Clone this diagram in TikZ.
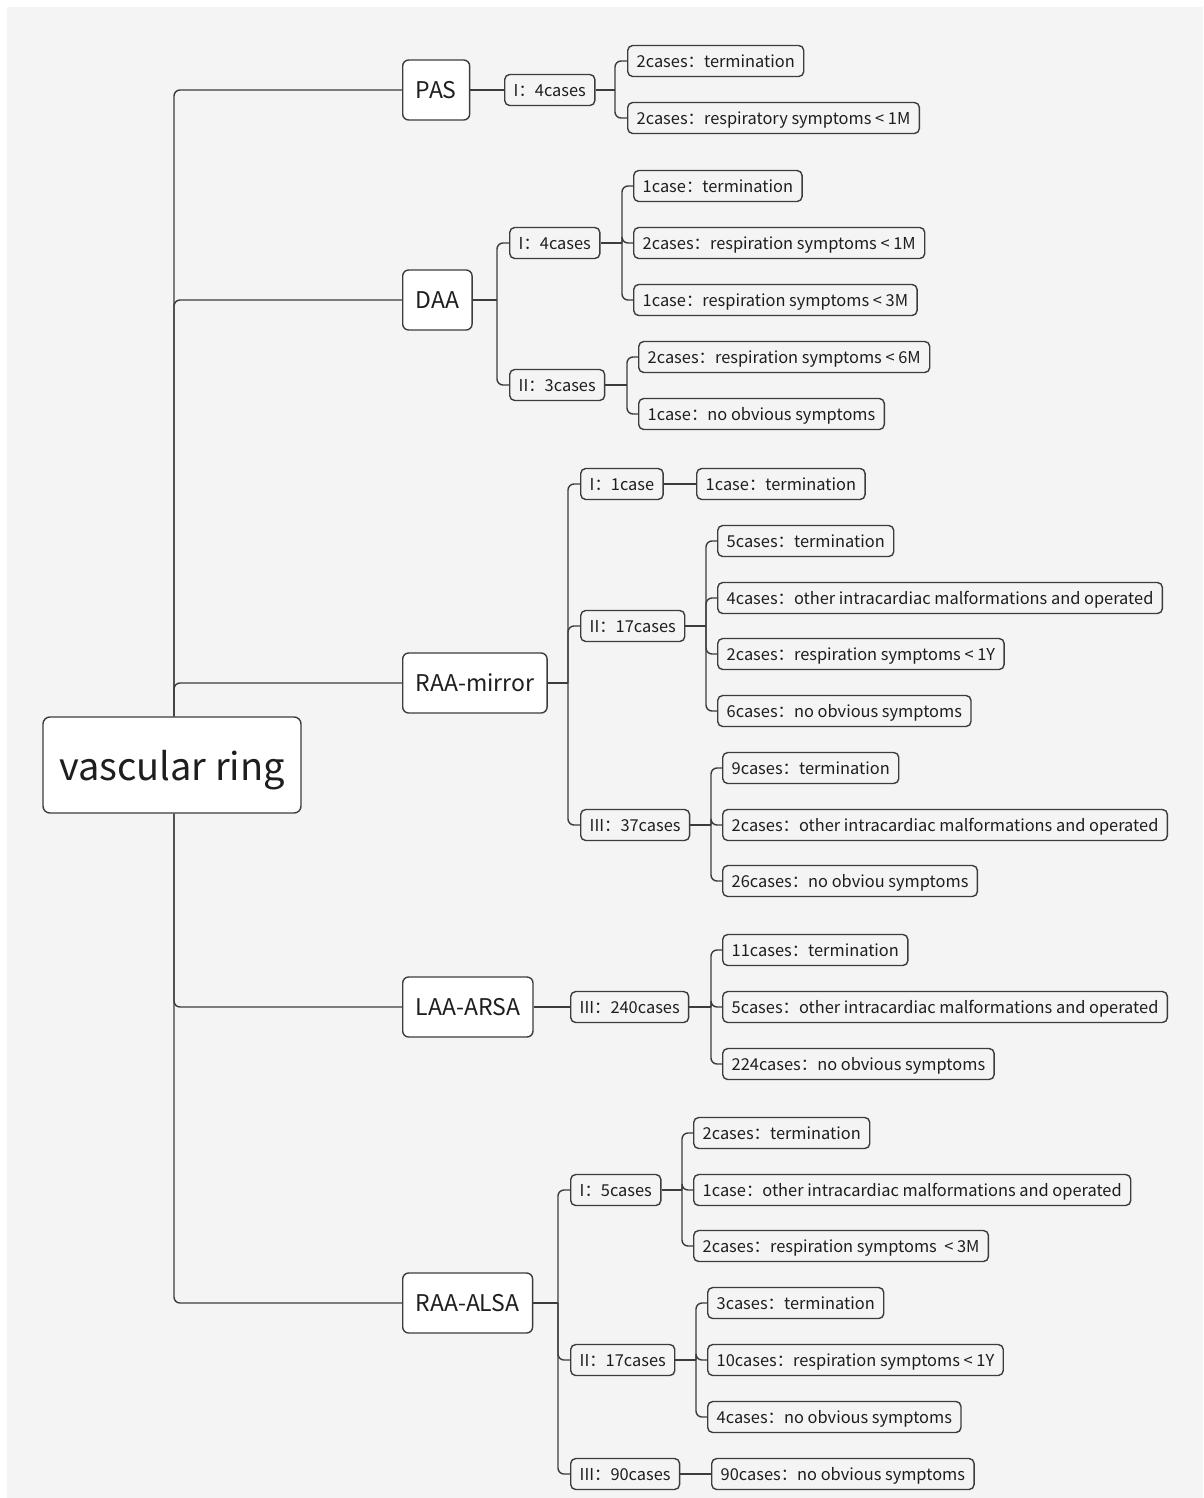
\documentclass[tikz,border=0pt]{standalone}
\usepackage{fontspec}
\setmainfont{Noto Sans CJK SC}
\definecolor{bgcol}{HTML}{F4F4F4}
\definecolor{linec}{HTML}{3C3C3C}
\definecolor{txtc}{HTML}{1E1E1E}
\begin{document}
\begin{tikzpicture}[x=1pt,y=-1pt,
  base/.style={draw=linec, line width=1.4pt, rounded corners=5pt, text=txtc, anchor=west, inner ysep=0pt},
  lvthree/.style={base, font=\fontsize{16.4}{20}\selectfont, inner xsep=9pt, minimum height=31pt, text height=12.5pt, text depth=0pt},
  lvtwo/.style={base, font=\fontsize{16.4}{20}\selectfont, inner xsep=9pt, minimum height=31pt, text height=12.5pt, text depth=0pt},
  lvone/.style={base, fill=white, font=\fontsize{23}{27}\selectfont, inner xsep=13pt, minimum height=60pt, rounded corners=6pt, text height=17.5pt, text depth=0pt},
  rootbox/.style={draw=linec, line width=1.4pt, fill=white, rounded corners=7pt, text=txtc, font=\fontsize{38}{44}\selectfont, minimum width=258pt, minimum height=96pt, text height=31pt, text depth=0pt},
  conn/.style={draw=linec, line width=1.4pt},
  rconn/.style={conn, rounded corners=6pt}
]
\useasboundingbox (0,0) rectangle (1203,1498);
\fill[white] (0,0) rectangle (1203,1498);
\fill[bgcol] (7,7) rectangle (1203,1498);

% root
\node[rootbox] (root) at (172,765) {vascular ring};

% level 1
\node[lvone] (pas) at (402,90) {PAS};
\node[lvone] (daa) at (402,300) {DAA};
\node[lvone] (raam) at (402,683) {RAA-mirror};
\node[lvone] (laa) at (402,1007) {LAA-ARSA};
\node[lvone] (raal) at (402,1303) {RAA-ALSA};

% level 2
\node[lvtwo] (pasI) at (504,90) {I：4cases};
\node[lvtwo] (daaI) at (509,243) {I：4cases};
\node[lvtwo] (daaII) at (509,385) {II：3cases};
\node[lvtwo] (rmI) at (580,484) {I：1case};
\node[lvtwo] (rmII) at (580,626) {II：17cases};
\node[lvtwo] (rmIII) at (580,825) {III：37cases};
\node[lvtwo] (laIII) at (570,1007) {III：240cases};
\node[lvtwo] (raI) at (570,1190) {I：5cases};
\node[lvtwo] (raII) at (570,1360) {II：17cases};
\node[lvtwo] (raIII) at (570,1474) {III：90cases};

% level 3
\node[lvthree] (p1) at (627,61) {2cases：termination};
\node[lvthree] (p2) at (627,118) {2cases：respiratory symptoms < 1M};

\node[lvthree] (d1) at (633,186) {1case：termination};
\node[lvthree] (d2) at (633,243) {2cases：respiration symptoms < 1M};
\node[lvthree] (d3) at (633,300) {1case：respiration symptoms < 3M};
\node[lvthree] (d4) at (638,357) {2cases：respiration symptoms < 6M};
\node[lvthree] (d5) at (638,414) {1case：no obvious symptoms};

\node[lvthree] (m1) at (696,484) {1case：termination};
\node[lvthree] (m2) at (717,541) {5cases：termination};
\node[lvthree] (m3) at (717,598) {4cases：other intracardiac malformations and operated};
\node[lvthree] (m4) at (717,654) {2cases：respiration symptoms < 1Y};
\node[lvthree] (m5) at (717,711) {6cases：no obvious symptoms};
\node[lvthree] (m6) at (722,768) {9cases：termination};
\node[lvthree] (m7) at (722,825) {2cases：other intracardiac malformations and operated};
\node[lvthree] (m8) at (722,881) {26cases：no obviou symptoms};

\node[lvthree] (l1) at (722,950) {11cases：termination};
\node[lvthree] (l2) at (722,1007) {5cases：other intracardiac malformations and operated};
\node[lvthree] (l3) at (722,1064) {224cases：no obvious symptoms};

\node[lvthree] (a1) at (693,1133) {2cases：termination};
\node[lvthree] (a2) at (693,1190) {1case：other intracardiac malformations and operated};
\node[lvthree] (a3) at (693,1246) {2cases：respiration symptoms\ \ < 3M};
\node[lvthree] (a4) at (707,1303) {3cases：termination};
\node[lvthree] (a5) at (707,1360) {10cases：respiration symptoms < 1Y};
\node[lvthree] (a6) at (707,1417) {4cases：no obvious symptoms};
\node[lvthree] (a7) at (711,1474) {90cases：no obvious symptoms};

% vertical positions
\coordinate (vp) at (615,0);
\coordinate (vd) at (497,0);
\coordinate (vdI) at (622,0);
\coordinate (vdII) at (627,0);
\coordinate (vm) at (568,0);
\coordinate (vmII) at (706,0);
\coordinate (vmIII) at (711,0);
\coordinate (vl) at (711,0);
\coordinate (va) at (558,0);
\coordinate (vaI) at (682,0);
\coordinate (vaII) at (696,0);

% root trunk
\foreach \c in {pas,daa,raam} \draw[rconn] ([xshift=2pt]root.north) |- (\c.west);
\foreach \c in {laa,raal} \draw[rconn] ([xshift=2pt]root.south) |- (\c.west);

% level1 -> level2
\draw[conn] (pas.east) -- (pasI.west);
\draw[conn] (laa.east) -- (laIII.west);
\draw[conn] (daa.east) -- (daa.east -| vd);
\foreach \c in {daaI,daaII} \draw[rconn] (daa.east -| vd) |- (\c.west);
\draw[conn] (raam.east) -- (raam.east -| vm);
\foreach \c in {rmI,rmII,rmIII} \draw[rconn] (raam.east -| vm) |- (\c.west);
\draw[conn] (raal.east) -- (raal.east -| va);
\foreach \c in {raI,raII,raIII} \draw[rconn] (raal.east -| va) |- (\c.west);

% level2 -> level3
\draw[conn] (pasI.east) -- (pasI.east -| vp);
\foreach \c in {p1,p2} \draw[rconn] (pasI.east -| vp) |- (\c.west);
\draw[conn] (daaI.east) -- (daaI.east -| vdI);
\foreach \c in {d1,d2,d3} \draw[rconn] (daaI.east -| vdI) |- (\c.west);
\draw[conn] (daaII.east) -- (daaII.east -| vdII);
\foreach \c in {d4,d5} \draw[rconn] (daaII.east -| vdII) |- (\c.west);
\draw[conn] (rmI.east) -- (m1.west);
\draw[conn] (rmII.east) -- (rmII.east -| vmII);
\foreach \c in {m2,m3,m4,m5} \draw[rconn] (rmII.east -| vmII) |- (\c.west);
\draw[conn] (rmIII.east) -- (rmIII.east -| vmIII);
\foreach \c in {m6,m7,m8} \draw[rconn] (rmIII.east -| vmIII) |- (\c.west);
\draw[conn] (laIII.east) -- (laIII.east -| vl);
\foreach \c in {l1,l2,l3} \draw[rconn] (laIII.east -| vl) |- (\c.west);
\draw[conn] (raI.east) -- (raI.east -| vaI);
\foreach \c in {a1,a2,a3} \draw[rconn] (raI.east -| vaI) |- (\c.west);
\draw[conn] (raII.east) -- (raII.east -| vaII);
\foreach \c in {a4,a5,a6} \draw[rconn] (raII.east -| vaII) |- (\c.west);
\draw[conn] (raIII.east) -- (a7.west);
\end{tikzpicture}
\end{document}
